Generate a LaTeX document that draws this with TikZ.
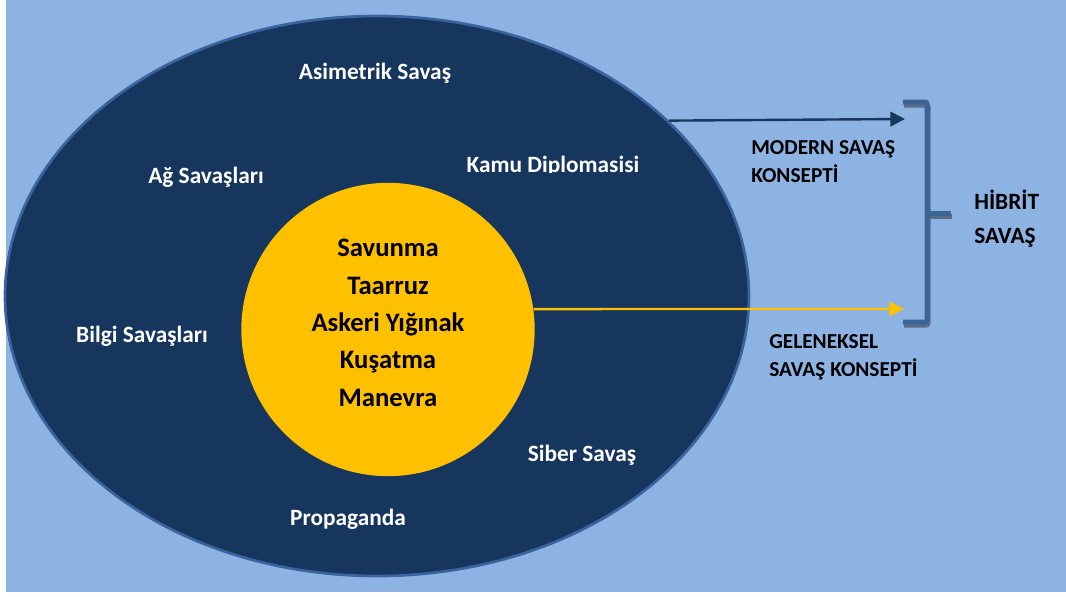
\documentclass[tikz,border=0pt]{standalone}
\usepackage{fontspec}
\setmainfont{Carlito}
\usetikzlibrary{shapes.geometric,arrows.meta}
\definecolor{couleurfond}{HTML}{8DB3E2}
\definecolor{couleurellp}{HTML}{17365D}
\definecolor{couleurbord}{HTML}{3A64A0}
\definecolor{couleurcoeur}{HTML}{FFC000}
\definecolor{couleurfleche}{HTML}{17375E}
\definecolor{couleurcroc}{HTML}{3A6396}
\definecolor{couleurombr}{HTML}{5B6C88}
\newcommand{\fleche}[3]{\draw[#1] (#2) -- (#3);}
\tikzset{
		dehors/.style={text=white, font=\fontsize{17.5}{21}\selectfont\bfseries, inner sep=0pt, anchor=base},
		dedans/.style={text=black, font=\fontsize{20}{28}\selectfont\bfseries, align=center, inner sep=0pt},
		legende/.style={text=black, font=\fontsize{16}{21}\selectfont\bfseries, align=left, inner sep=0pt, anchor=west},
		titre/.style={legende, font=\fontsize{17.5}{25.5}\selectfont\bfseries},
		pointe/.style={-{Triangle[length=11pt,width=11pt]}, line width=1.8pt},
		crochet/.style={line width=3.75pt, rounded corners=1.5pt, color=couleurcroc},
		ombre/.style={crochet, color=couleurombr}
	}
\begin{document}
\begin{tikzpicture}[x=0.75pt, y=-0.75pt]
		\useasboundingbox[fill=white] (0,0) rectangle (1066,596);
		\fill[couleurfond] (6,0) rectangle (1066,592);
		% formes
		\node[ellipse, draw=couleurbord, line width=2pt, fill=couleurellp, minimum width=558pt, minimum height=420pt, inner sep=0pt] (exterieur) at (377,296) {};
		\node[circle, fill=couleurcoeur, minimum size=220pt, inner sep=0pt] (coeur) at (388,329.5) {};
		% modern savas
		\node[dehors] (asimsava) at (375,79) {Asimetrik Savaş};
		\node[dehors] (agsavasl) at (206,183) {Ağ Savaşları};
		\begin{scope}
			\clip (440,140) rectangle (680,172);
			\node[dehors] (kamudipl) at (553,172) {Kamu Diplomasisi};
		\end{scope}
		\node[dehors] (bilgsava) at (142,342) {Bilgi Savaşları};
		\node[dehors] (sibesava) at (582,461) {Siber Savaş};
		\node[dehors] (propagan) at (348,525) {Propaganda};
		% geleneksel savas
		\node[dedans] (listcoeu) at (388,323) {Savunma\\Taarruz\\Askeri Yığınak\\Kuşatma\\Manevra};
		% legendes
		\node[legende] (modekons) at (751,162) {MODERN SAVAŞ\\KONSEPTİ};
		\node[legende] (gelekons) at (769,357) {GELENEKSEL\\SAVAŞ KONSEPTİ};
		\node[titre] (hibrsava) at (974,219) {HİBRİT\\SAVAŞ};
		% crochet
		\draw[ombre] (904,105) -- (928,105) -- (928,325) -- (904,325);
		\draw[ombre] (928,216) -- (952,216);
		\draw[crochet] (903,102) -- (927,102) -- (927,322) -- (903,322);
		\draw[crochet] (927,213) -- (951,213);
		% fleches
		\coordinate (modepint) at (905,119);
		\coordinate (gelepint) at (904,309);
		\fleche{pointe, couleurfleche}{exterieur.31}{modepint}
		\fleche{pointe, couleurcoeur}{coeur.8}{gelepint}
	\end{tikzpicture}
\end{document}
